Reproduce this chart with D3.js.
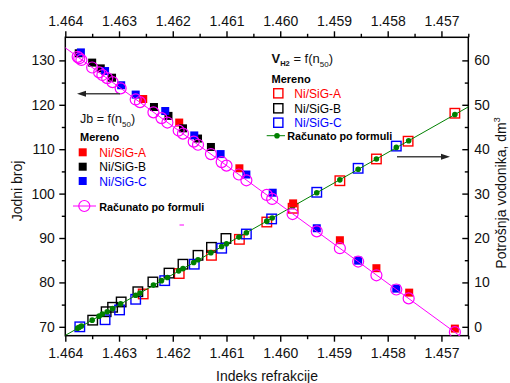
<!DOCTYPE html>
<html><head><meta charset="utf-8">
<script src="https://cdn.jsdelivr.net/npm/d3@7"></script>
<style>
html,body{margin:0;padding:0;background:#fff;}
svg{display:block;font-family:"Liberation Sans",Arial,sans-serif;}
</style></head>
<body><svg id="c" width="510" height="383"></svg>
<script>
// ---- data ----
const xTicks = [1.464, 1.463, 1.462, 1.461, 1.460, 1.459, 1.458, 1.457];
const xMinor = [1.4635, 1.4625, 1.4615, 1.4605, 1.4595, 1.4585, 1.4575, 1.4565];
const yLeftTicks = [70, 80, 90, 100, 110, 120, 130];
const yLeftMinor = [75, 85, 95, 105, 115, 125];
const yRightTicks = [0, 10, 20, 30, 40, 50, 60];
const yRightMinor = [5, 15, 25, 35, 45, 55];

// calculated values (Računato po formuli)
const nCalc = [1.46377, 1.46374, 1.46370, 1.46350, 1.46337, 1.46331, 1.46322, 1.46312, 1.46297, 1.46269, 1.46261, 1.46236, 1.46221, 1.46210, 1.46189, 1.46181, 1.46161, 1.46153, 1.46129, 1.46109, 1.46100, 1.46077, 1.46063, 1.46025, 1.46015, 1.45977, 1.45932, 1.45889, 1.45855, 1.45821, 1.45784, 1.45761, 1.45675];
const jbCalc = [130.8, 130.5, 130.1, 128.4, 127.3, 126.7, 126.0, 125.1, 123.7, 121.2, 120.6, 118.3, 117.0, 116.0, 114.2, 113.5, 111.7, 111.0, 108.9, 107.1, 106.3, 104.3, 103.0, 99.7, 98.8, 95.4, 91.5, 87.7, 84.7, 81.6, 78.4, 76.4, 68.8];
const vCalc = [-0.3, -0.1, 0.2, 1.5, 2.4, 2.9, 3.4, 4.1, 5.2, 7.1, 7.6, 9.4, 10.4, 11.1, 12.6, 13.1, 14.5, 15.1, 16.7, 18.1, 18.7, 20.2, 21.2, 23.8, 24.5, 27.1, 30.2, 33.1, 35.5, 37.8, 40.4, 41.9, 47.8];

// fitted lines (end points)
const fitN = [1.4642, 1.4563];
const fitJb = [134.6, 64.8];
const fitV = [-3.3, 50.9];

// measured (Mereno)
const nJbA = [1.46255, 1.46188, 1.46076, 1.45976, 1.45889, 1.45821, 1.45760, 1.45675];
const jbA  = [121.3, 116.0, 105.7, 97.8, 89.5, 83.2, 77.7, 69.6];
const nVA  = [1.46255, 1.46188, 1.46128, 1.46076, 1.46025, 1.45976, 1.45889, 1.45821, 1.45762, 1.45675];
const vA   = [7.4, 12.0, 16.1, 19.7, 23.6, 26.7, 32.9, 37.8, 41.8, 48.1];

const nJbB = [1.46375, 1.46350, 1.46334, 1.46313, 1.46235, 1.46208, 1.46181, 1.46153, 1.46129];
const jbB  = [131.6, 129.5, 128.2, 126.1, 119.5, 117.5, 114.7, 112.4, 110.5];
const nVB  = [1.46349, 1.46324, 1.46312, 1.46296, 1.46265, 1.46237, 1.46207, 1.46181, 1.46153, 1.46128, 1.46101];
const vB   = [1.5, 3.4, 4.4, 5.6, 7.9, 10.1, 12.1, 14.1, 16.1, 17.9, 19.9];

const nJbC = [1.46371, 1.46326, 1.46296, 1.46269, 1.46214, 1.46160, 1.46111, 1.46063, 1.46014, 1.45932, 1.45855, 1.45784];
const jbC  = [131.8, 127.6, 124.4, 122.3, 118.6, 113.1, 108.9, 104.3, 100.2, 92.2, 84.9, 78.6];
const nVC  = [1.46373, 1.46326, 1.46299, 1.46269, 1.46215, 1.46160, 1.46109, 1.46063, 1.46016, 1.45932, 1.45855, 1.45784];
const vC   = [0.0, 1.6, 3.8, 6.2, 10.4, 14.1, 17.7, 20.9, 24.3, 30.3, 35.7, 40.7];

const seriesNames = ["Ni/SiG-A", "Ni/SiG-B", "Ni/SiG-C"];
const seriesColors = ["#ff0000", "#000000", "#0000ff"];

// ---- build ----
const measured = [
  {nJb: nJbA, jb: jbA, nV: nVA, v: vA},
  {nJb: nJbB, jb: jbB, nV: nVB, v: vB},
  {nJb: nJbC, jb: jbC, nV: nVC, v: vC}
].map((s, i) => ({...s, name: seriesNames[i], color: seriesColors[i]}));

const L = 65.3, R = 468.3, T = 37.3, B = 335.7;
const svg = d3.select("#c");
const x = d3.scaleLinear().domain([1.464, 1.4565]).range([L, R]);
const yL = d3.scaleLinear().domain([68, 135.2]).range([B, T]);
const yR = d3.scaleLinear().domain([-2, 65.2]).range([B, T]);

svg.append("defs").append("clipPath").attr("id", "clip")
  .append("rect").attr("x", L).attr("y", T).attr("width", R - L).attr("height", B - T);

const fmt = d3.format(".3f");
function styleAxis(g) {
  g.select(".domain").remove();
  g.selectAll("line").attr("stroke", "#000").attr("stroke-width", 1.4);
  g.selectAll("text").attr("font-size", 14).attr("fill", "#111")
    .attr("font-family", "'Liberation Sans', Arial, sans-serif");
}
svg.append("g").attr("transform", `translate(0,${B})`)
  .call(d3.axisBottom(x).tickValues(xTicks).tickFormat(fmt).tickSize(6).tickPadding(6)).call(styleAxis);
svg.append("g").attr("transform", `translate(0,${B})`)
  .call(d3.axisBottom(x).tickValues(xMinor).tickFormat("").tickSize(3.5)).call(styleAxis);
svg.append("g").attr("transform", `translate(0,${T})`)
  .call(d3.axisTop(x).tickValues(xTicks).tickFormat(fmt).tickSize(6).tickPadding(5)).call(styleAxis);
svg.append("g").attr("transform", `translate(0,${T})`)
  .call(d3.axisTop(x).tickValues(xMinor).tickFormat("").tickSize(3.5)).call(styleAxis);
svg.append("g").attr("transform", `translate(${L},0)`)
  .call(d3.axisLeft(yL).tickValues(yLeftTicks).tickSize(6).tickPadding(4.5)).call(styleAxis);
svg.append("g").attr("transform", `translate(${L},0)`)
  .call(d3.axisLeft(yL).tickValues(yLeftMinor).tickFormat("").tickSize(3.5)).call(styleAxis);
svg.append("g").attr("transform", `translate(${R},0)`)
  .call(d3.axisRight(yR).tickValues(yRightTicks).tickSize(-6).tickPadding(6)).call(styleAxis);
svg.append("g").attr("transform", `translate(${R},0)`)
  .call(d3.axisRight(yR).tickValues(yRightMinor).tickFormat("").tickSize(-3.5)).call(styleAxis);

svg.append("rect").attr("x", L).attr("y", T).attr("width", R - L).attr("height", B - T)
  .attr("fill", "none").attr("stroke", "#000").attr("stroke-width", 1.5);

const plot = svg.append("g").attr("clip-path", "url(#clip)");

// V measured (hollow squares)
const hs = 9.5;
measured.forEach(s => {
  plot.append("g").selectAll("rect").data(s.nV.map((n, i) => [n, s.v[i]])).join("rect")
    .attr("x", d => x(d[0]) - hs / 2).attr("y", d => yR(d[1]) - hs / 2)
    .attr("width", hs).attr("height", hs)
    .attr("fill", "none").attr("stroke", s.color).attr("stroke-width", 1.4);
});
// V calc line + dots
plot.append("path").datum(fitN.map((n, i) => [n, fitV[i]]))
  .attr("d", d3.line().x(d => x(d[0])).y(d => yR(d[1])))
  .attr("stroke", "#008000").attr("stroke-width", 1).attr("fill", "none");
plot.append("g").selectAll("circle").data(nCalc.map((n, i) => [n, vCalc[i]])).join("circle")
  .attr("cx", d => x(d[0])).attr("cy", d => yR(d[1])).attr("r", 2.8).attr("fill", "#008000");

// Jb measured (filled squares)
const fs = 8;
measured.forEach(s => {
  plot.append("g").selectAll("rect").data(s.nJb.map((n, i) => [n, s.jb[i]])).join("rect")
    .attr("x", d => x(d[0]) - fs / 2).attr("y", d => yL(d[1]) - fs / 2)
    .attr("width", fs).attr("height", fs).attr("fill", s.color);
});
// Jb calc line + circles
plot.append("path").datum(fitN.map((n, i) => [n, fitJb[i]]))
  .attr("d", d3.line().x(d => x(d[0])).y(d => yL(d[1])))
  .attr("stroke", "#ff00ff").attr("stroke-width", 1).attr("fill", "none");
plot.append("g").selectAll("circle").data(nCalc.map((n, i) => [n, jbCalc[i]])).join("circle")
  .attr("cx", d => x(d[0])).attr("cy", d => yL(d[1])).attr("r", 5.5)
  .attr("fill", "none").attr("stroke", "#ff00ff").attr("stroke-width", 1.2);

// ---- axis titles ----
svg.append("text").attr("x", 267).attr("y", 380.5).attr("text-anchor", "middle")
  .attr("font-size", 14).attr("fill", "#111").text("Indeks refrakcije");
svg.append("text").attr("transform", "translate(22,191) rotate(-90)").attr("text-anchor", "middle")
  .attr("font-size", 14).attr("fill", "#111").text("Jodni broj");
const rt = svg.append("text").attr("transform", "translate(506,193) rotate(-90)").attr("text-anchor", "middle")
  .attr("font-size", 14).attr("fill", "#111");
rt.append("tspan").text("Potrošnja vodonika, dm");
rt.append("tspan").attr("font-size", 9).attr("dy", -6).text("3");

// ---- arrows ----
function arrow(x1, x2, y) {
  const dir = Math.sign(x2 - x1);
  svg.append("line").attr("x1", x1).attr("x2", x2 - dir * 6).attr("y1", y).attr("y2", y)
    .attr("stroke", "#444").attr("stroke-width", 1.6);
  svg.append("path").attr("d", `M${x2},${y} L${x2 - dir * 9},${y - 3} L${x2 - dir * 9},${y + 3} Z`).attr("fill", "#222");
}
arrow(120, 77, 93.7);
arrow(397, 450, 156.7);

// stray mark
svg.append("line").attr("x1", 179.5).attr("x2", 184).attr("y1", 225).attr("y2", 225)
  .attr("stroke", "#ff00ff").attr("stroke-width", 1);

// ---- left legend (Jb) ----
const t1 = svg.append("text").attr("x", 80).attr("y", 123).attr("font-size", 12.5).attr("fill", "#111");
t1.append("tspan").text("Jb = f(n");
t1.append("tspan").attr("font-size", 8).attr("dy", 4).text("50");
t1.append("tspan").attr("dy", -4).text(")");
svg.append("text").attr("x", 80).attr("y", 140.7).attr("font-size", 11).attr("font-weight", "bold").text("Mereno");
const lrows = [152.3, 166.7, 181];
measured.forEach((s, i) => {
  svg.append("rect").attr("x", 82.7 - 4).attr("y", lrows[i] - 4).attr("width", 8).attr("height", 8).attr("fill", s.color);
  svg.append("text").attr("x", 99.3).attr("y", lrows[i] + 4.5).attr("font-size", 12).attr("fill", s.color).text(s.name);
});
svg.append("line").attr("x1", 73).attr("x2", 96).attr("y1", 206).attr("y2", 206).attr("stroke", "#ff00ff").attr("stroke-width", 1);
svg.append("circle").attr("cx", 84.3).attr("cy", 206).attr("r", 5.5).attr("fill", "none").attr("stroke", "#ff00ff").attr("stroke-width", 1.2);
svg.append("text").attr("x", 99.3).attr("y", 210.5).attr("font-size", 10.8).attr("font-weight", "bold").text("Računato po formuli");

// ---- right legend (V) ----
const t2 = svg.append("text").attr("x", 271.5).attr("y", 63.3).attr("font-size", 13).attr("fill", "#111");
t2.append("tspan").attr("font-weight", "bold").text("V");
t2.append("tspan").attr("font-weight", "bold").attr("font-size", 7.5).attr("dy", 3).text("H2");
t2.append("tspan").attr("dy", -3).text(" = f(n");
t2.append("tspan").attr("font-size", 8).attr("dy", 3.5).text("50");
t2.append("tspan").attr("dy", -3.5).text(")");
svg.append("text").attr("x", 271.5).attr("y", 83).attr("font-size", 11).attr("font-weight", "bold").text("Mereno");
const rrows = [93.3, 108.3, 122.7];
measured.forEach((s, i) => {
  svg.append("rect").attr("x", 278.3 - 4.6).attr("y", rrows[i] - 4.6).attr("width", 9.2).attr("height", 9.2)
    .attr("fill", "none").attr("stroke", s.color).attr("stroke-width", 1.4);
  svg.append("text").attr("x", 294.3).attr("y", rrows[i] + 4.3).attr("font-size", 12).attr("fill", s.color).text(s.name);
});
svg.append("line").attr("x1", 266.7).attr("x2", 285).attr("y1", 135.7).attr("y2", 135.7).attr("stroke", "#008000").attr("stroke-width", 1);
svg.append("circle").attr("cx", 277).attr("cy", 135.7).attr("r", 2.8).attr("fill", "#008000");
svg.append("text").attr("x", 287.3).attr("y", 140.3).attr("font-size", 10.8).attr("font-weight", "bold").text("Računato po formuli");
</script>
</body></html>
